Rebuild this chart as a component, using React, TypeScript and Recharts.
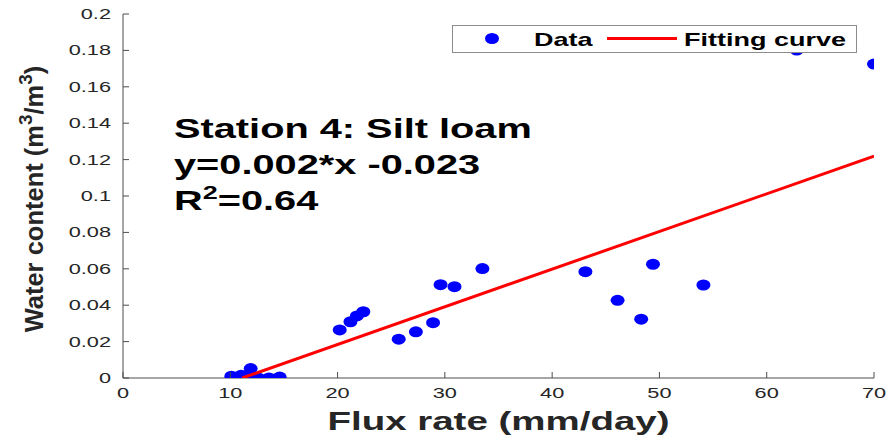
import React from 'react';
import { ScatterChart, Scatter, XAxis, YAxis, Legend, Customized } from 'recharts';

// Measured flux rate (mm/day) and water content (m3/m3) at station 4
const fluxRate = [10.1, 11.0, 11.8, 11.9, 12.6, 13.6, 14.6, 20.2, 21.2, 21.8, 22.4, 25.7, 27.3, 28.9, 29.6, 30.9, 33.5, 43.1, 46.1, 48.3, 49.4, 54.1, 62.8, 70.0];
const waterContent = [0.001, 0.0015, 0.0, 0.0052, 0.0, 0.0, 0.0005, 0.0264, 0.0309, 0.0341, 0.0364, 0.0213, 0.0254, 0.0304, 0.0513, 0.0502, 0.0601, 0.0584, 0.0427, 0.0323, 0.0625, 0.0511, 0.1802, 0.1725];

const xTicks = [0, 10, 20, 30, 40, 50, 60, 70];
const yTicks = [0, 0.02, 0.04, 0.06, 0.08, 0.1, 0.12, 0.14, 0.16, 0.18, 0.2];
const yTickLabels = ['0', '0.02', '0.04', '0.06', '0.08', '0.1', '0.12', '0.14', '0.16', '0.18', '0.2'];

// Linear fit (coefficients shown rounded in the annotation)
const fitSlope = 0.00207;
const fitIntercept = -0.023;
const fitR2 = 0.64;
const fitXEnd = 70;

const points = fluxRate.map((x, i) => ({ x, y: waterContent[i] }));
const fitXStart = -fitIntercept / fitSlope;
const fitLine = [fitXStart, fitXEnd].map((x) => ({ x, y: fitSlope * x + fitIntercept }));

const AXIS = '#4d4d4d';
const TEXT = '#262626';
const BLUE = '#0000ff';
const RED = '#ff0000';
const FONT = '"Liberation Sans", Arial, Helvetica, sans-serif';

function Stretched(props: any) {
  const { x, y, sx = 1.45, anchor = 'start', size = 15, weight = 'normal', fill = TEXT, children } = props;
  return (
    <g transform={`translate(${x},${y}) scale(${sx},1)`}>
      <text x={0} y={0} textAnchor={anchor} fontSize={size} fontWeight={weight} fill={fill} fontFamily={FONT}>
        {children}
      </text>
    </g>
  );
}

const BottomTick = (props: any) => {
  const { x, y, payload } = props;
  return (
    <g>
      <line x1={x} x2={x} y1={y} y2={y - 6} stroke={AXIS} />
      <Stretched x={x} y={y + 20} anchor="middle" size={15}>{String(payload.value)}</Stretched>
    </g>
  );
};

const LeftTick = (props: any) => {
  const { x, y, payload } = props;
  const idx = yTicks.indexOf(payload.value);
  const label = idx >= 0 ? yTickLabels[idx] : String(payload.value);
  return (
    <g>
      <line x1={x} x2={x + 6} y1={y} y2={y} stroke={AXIS} />
      <Stretched x={x - 12} y={y + 5} anchor="end" size={15}>{label}</Stretched>
    </g>
  );
};

const TopTick = (props: any) => {
  const { x, y } = props;
  return <line x1={x} x2={x} y1={y} y2={y + 6} stroke={AXIS} />;
};

const RightTick = (props: any) => {
  const { x, y } = props;
  return <line x1={x} x2={x - 6} y1={y} y2={y} stroke={AXIS} />;
};

const XTitle = (props: any) => {
  const vb = props.viewBox ?? { x: 123, y: 378, width: 751, height: 59 };
  return (
    <Stretched x={vb.x + vb.width / 2} y={vb.y + 52} anchor="middle" size={26} sx={1.48} weight="bold">
      Flux rate (mm/day)
    </Stretched>
  );
};

const YTitle = (props: any) => {
  const vb = props.viewBox ?? { x: 0, y: 14, width: 123, height: 364 };
  const cx = vb.x + 43;
  const cy = vb.y + vb.height / 2 + 3;
  return (
    <text
      x={cx}
      y={cy}
      transform={`rotate(-90, ${cx}, ${cy})`}
      textAnchor="middle"
      fontSize={25.5}
      fontWeight="bold"
      fill={TEXT}
      fontFamily={FONT}
    >
      Water content (m<tspan dy={-11} fontSize={19}>3</tspan>
      <tspan dy={11}>/m</tspan>
      <tspan dy={-11} fontSize={19}>3</tspan>
      <tspan dy={11}>)</tspan>
    </text>
  );
};

const Dot = (props: any) => {
  const { cx, cy } = props;
  if (cx == null || cy == null) return <g />;
  return <ellipse cx={cx} cy={cy} rx={7} ry={5.5} fill={BLUE} />;
};

const NoMarker = () => <g />;

const LegendBox = () => (
  <svg width={405} height={28} style={{ display: 'block' }}>
    <rect x={0.5} y={0.5} width={404} height={27} fill="#ffffff" stroke="#8c8c8c" />
    <ellipse cx={40} cy={13.5} rx={7} ry={5.5} fill={BLUE} />
    <Stretched x={82} y={21} sx={1.5} size={18} weight="bold" fill="#000">Data</Stretched>
    <line x1={155} x2={225} y1={13.5} y2={13.5} stroke={RED} strokeWidth={3} />
    <Stretched x={232} y={21} sx={1.5} size={18} weight="bold" fill="#000">Fitting curve</Stretched>
  </svg>
);

const Annotation = () => (
  <g>
    <Stretched x={174} y={138} sx={1.42} size={28} weight="bold" fill="#000">Station 4: Silt loam</Stretched>
    <Stretched x={174} y={174} sx={1.42} size={28} weight="bold" fill="#000">
      {`y=${fitSlope.toFixed(3)}*x ${fitIntercept.toFixed(3)}`}
    </Stretched>
    <Stretched x={174} y={210} sx={1.42} size={28} weight="bold" fill="#000">
      R<tspan dy={-11} fontSize={19}>2</tspan>
      <tspan dy={11}>{`=${fitR2.toFixed(2)}`}</tspan>
    </Stretched>
  </g>
);

export default function App() {
  return (
    <div style={{ position: 'absolute', left: 0, top: 0, background: '#fff' }}>
      <ScatterChart width={888} height={437} margin={{ top: 14, right: 14, bottom: 0, left: 0 }}>
        <XAxis
          xAxisId={0}
          type="number"
          dataKey="x"
          domain={[0, 70]}
          ticks={xTicks}
          allowDataOverflow
          height={59}
          tickSize={0}
          tickMargin={0}
          tickLine={false}
          axisLine={{ stroke: AXIS }}
          tick={<BottomTick />}
          interval={0}
          label={<XTitle />}
        />
        <XAxis
          xAxisId="top"
          orientation="top"
          type="number"
          dataKey="x"
          domain={[0, 70]}
          ticks={xTicks}
          allowDataOverflow
          height={0}
          tickSize={0}
          tickMargin={0}
          tickLine={false}
          axisLine={{ stroke: AXIS }}
          tick={<TopTick />}
          interval={0}
        />
        <YAxis
          yAxisId={0}
          type="number"
          dataKey="y"
          domain={[0, 0.2]}
          ticks={yTicks}
          allowDataOverflow
          width={123}
          tickSize={0}
          tickMargin={0}
          tickLine={false}
          axisLine={{ stroke: AXIS }}
          tick={<LeftTick />}
          interval={0}
          label={<YTitle />}
        />
        <YAxis
          yAxisId="right"
          orientation="right"
          type="number"
          dataKey="y"
          domain={[0, 0.2]}
          ticks={yTicks}
          allowDataOverflow
          width={0}
          tickSize={0}
          tickMargin={0}
          tickLine={false}
          axisLine={{ stroke: AXIS }}
          tick={<RightTick />}
          interval={0}
        />
        <Scatter name="Data" data={points} xAxisId={0} yAxisId={0} shape={<Dot />} isAnimationActive={false} />
        <Scatter
          name="Fitting curve"
          data={fitLine}
          xAxisId={0}
          yAxisId={0}
          line={{ stroke: RED, strokeWidth: 3 }}
          shape={<NoMarker />}
          isAnimationActive={false}
        />
        <Customized component={Annotation} />
        <Legend
          layout="horizontal"
          align="center"
          verticalAlign="middle"
          wrapperStyle={{ left: 452, top: 25, width: 405, height: 28 }}
          content={<LegendBox />}
        />
      </ScatterChart>
    </div>
  );
}
